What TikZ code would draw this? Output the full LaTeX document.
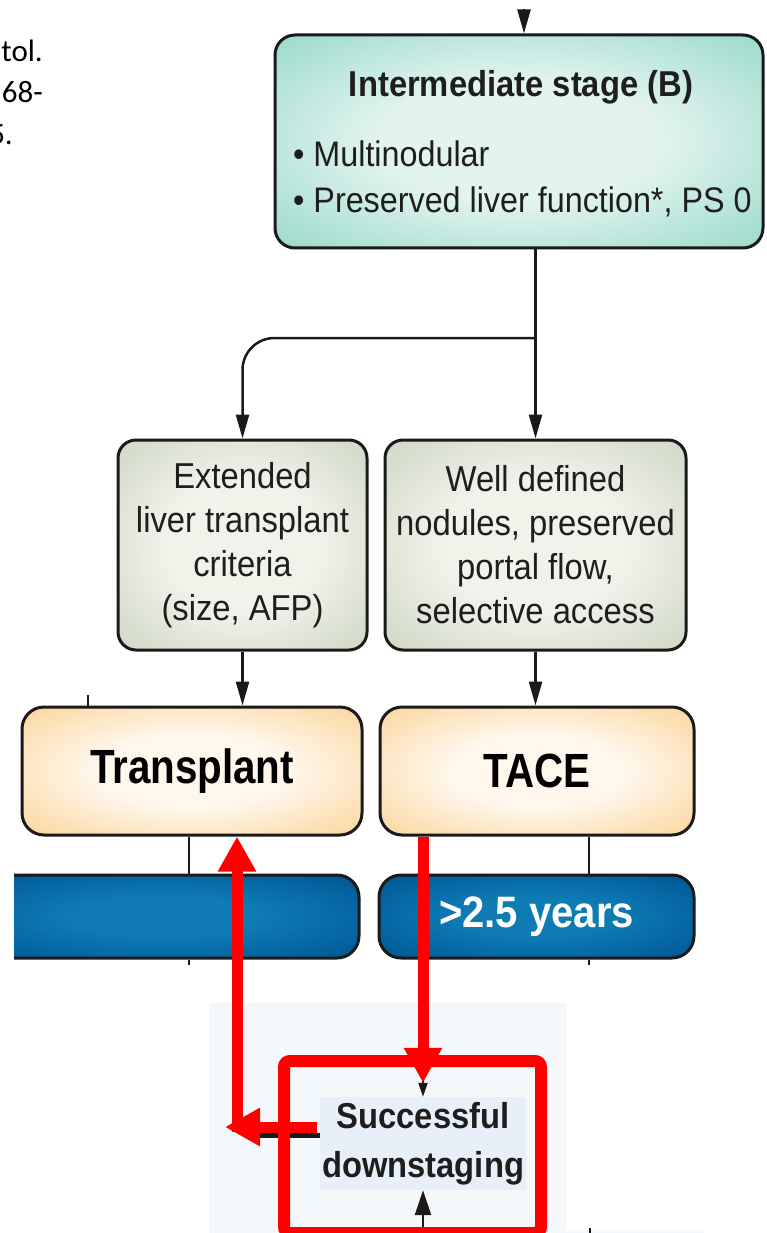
\documentclass[tikz,border=0pt]{standalone}
\usepackage{fontspec}
\usetikzlibrary{arrows.meta,calc}

% Narrowed sans faces used by the flow chart, and the note font
\newfontfamily\dfont[FakeStretch=0.91]{Liberation Sans}
\newfontfamily\dfontc[FakeStretch=0.84]{Liberation Sans}
\newfontfamily\notefont{Carlito}

% Box fills
\definecolor{tealin}{HTML}{E3F4F0}
\definecolor{tealout}{HTML}{9FDCCD}
\definecolor{sagein}{HTML}{F1F3EB}
\definecolor{sageout}{HTML}{D0D8C5}
\definecolor{peachin}{HTML}{FFF7EC}
\definecolor{peachout}{HTML}{FBD8A2}
\definecolor{bluein}{HTML}{0E7BB5}
\definecolor{blueout}{HTML}{005A96}
\definecolor{edgec}{HTML}{1A1A1A}
\definecolor{inkc}{HTML}{1E1E1E}
\definecolor{panelc}{HTML}{F4F8FA}
\definecolor{dsfill}{HTML}{E7F0F8}
\definecolor{alarm}{HTML}{FF0000}

% Vignette-like fills: light centre, darker rim
\pgfdeclareradialshading{tealglow}{\pgfpoint{0bp}{0bp}}{color(0bp)=(tealin); color(14bp)=(tealin); color(34bp)=(tealout); color(50bp)=(tealout)}
\pgfdeclareradialshading{sageglow}{\pgfpoint{0bp}{0bp}}{color(0bp)=(sagein); color(15bp)=(sagein); color(35bp)=(sageout); color(50bp)=(sageout)}
\pgfdeclareradialshading{peachglow}{\pgfpoint{0bp}{0bp}}{color(0bp)=(peachin); color(14bp)=(peachin); color(34bp)=(peachout); color(50bp)=(peachout)}
\pgfdeclareradialshading{blueglow}{\pgfpoint{0bp}{0bp}}{color(0bp)=(bluein); color(12bp)=(bluein); color(33bp)=(blueout); color(50bp)=(blueout)}

\tikzset{
  stagebox/.style={draw=edgec, line width=3, inner sep=0, shade, shading=#1},
  flow/.style={draw=edgec, line width=2.5, -{Triangle[length=24pt,width=13pt]}},
  link/.style={draw=edgec, line width=2.5},
  redarrow/.style={draw=alarm, line width=11, -{Triangle[length=35pt,width=36pt]}},
  midtext/.style={text=inkc, align=center, font=\dfont\fontsize{36}{44}\selectfont},
  bigtext/.style={text=black, font=\dfontc\bfseries\fontsize{48}{56}\selectfont},
  notetext/.style={text=black, anchor=base east, inner sep=0, font=\notefont\fontsize{31}{38}\selectfont},
}

\begin{document}
\begin{tikzpicture}[x=1pt, y=-1pt]
\useasboundingbox (0,0) rectangle (766,1233);
\fill[white] (0,0) rectangle (766,1233);

% Light panel behind the downstaging step
\fill[panelc] (209,1003) rectangle (567,1233);
\fill[panelc] (567,1230) rectangle (704,1233);

% Citation fragment at the upper left
\begin{scope}
\clip (0,0) rectangle (766,1233);
\node[notetext] (n1) at (43,62) {tol.};
\node[notetext] (n2) at (43,103) {68-};
\node[notetext] (n3) at (13,145) {5.};
\end{scope}

% ---- Boxes ----
\node[stagebox=tealglow, rounded corners=20, minimum width=488, minimum height=213] (top) at (519,141.5) {};
\node[stagebox=sageglow, rounded corners=18, minimum width=249, minimum height=210, midtext] (ext) at (242.5,545)
  {Extended\\liver transplant\\criteria\\(size, AFP)};
\node[stagebox=sageglow, rounded corners=18, minimum width=301, minimum height=210, midtext] (well) at (535.5,545)
  {Well defined\\nodules, preserved\\portal flow,\\selective access};
\node[stagebox=peachglow, rounded corners=22, minimum width=340, minimum height=128, bigtext] (transplant) at (192,771) {Transplant};
\node[stagebox=peachglow, rounded corners=22, minimum width=314, minimum height=128, bigtext] (tace) at (537,771) {TACE};

\begin{scope}
\clip (14,860) rectangle (420,975);
\node[stagebox=blueglow, rounded corners=22, minimum width=389, minimum height=83] (barL) at (164.5,916.5) {};
\end{scope}
\node[stagebox=blueglow, rounded corners=22, minimum width=315, minimum height=83,
      text=white, font=\dfont\bfseries\fontsize{44}{50}\selectfont] (barR) at (536.5,916.5) {>2.5 years};

% Text of the intermediate-stage box
\node[anchor=base, inner sep=0, text=inkc, font=\dfont\bfseries\fontsize{36}{42}\selectfont] (ttl) at (521,97) {Intermediate stage (B)};
\node[anchor=base west, inner sep=0, text=inkc, font=\dfont\fontsize{35.5}{42}\selectfont] (b1) at (293,167) {• Multinodular};
\node[anchor=base west, inner sep=0, text=inkc, font=\dfont\fontsize{35.5}{42}\selectfont] (b2) at (293,213) {• Preserved liver function*, PS 0};

% ---- Black connectors ----
\coordinate (entry) at (524,9);
\draw[flow] (entry) -- (entry |- top.north);
\coordinate (fork) at (535.5,338);
\draw[flow] (top.south -| well.north) -- (well.north);
\draw[flow, rounded corners=32] (fork) -- (fork -| ext.north) -- (ext.north);
\draw[flow] (ext.south) -- (ext.south |- transplant.north);
\draw[flow] (well.south) -- (well.south |- tace.north);

\coordinate (stubA) at (88,695);
\draw[link] (stubA) -- (stubA |- transplant.north);

\coordinate (tl) at (189,0);
\coordinate (tr) at (589,0);
\draw[link] (tl |- transplant.south) -- (tl |- barL.north);
\draw[link] (tl |- barL.south) -- ++(0,5);
\draw[link] (tr |- tace.south) -- (tr |- barR.north);
\draw[link] (tr |- barR.south) -- ++(0,5);
\draw[link] (590,1228) -- (590,1233);

% ---- Downstaging step ----
\node[fill=dsfill, minimum width=206, minimum height=93, inner sep=0, align=center, text=inkc,
      font=\dfont\bfseries\fontsize{36}{49}\selectfont] (succ) at (423,1143.5) {Successful\\downstaging};

\coordinate (fromabove) at (423,1062);
\draw[draw=edgec, line width=2, -{Triangle[length=14pt,width=9pt]}] (fromabove) -- (succ.north);
\coordinate (frombelow) at (423,1240);
\draw[draw=edgec, line width=2.5, -{Triangle[length=25pt,width=16pt]}] (frombelow) -- (succ.south);
\coordinate (backleft) at (258,1135);
\draw[draw=edgec, line width=5] (succ.west |- backleft) -- (backleft);

% ---- Red highlight ----
\node[draw=alarm, line width=12, rounded corners=6, minimum width=257, minimum height=172, inner sep=0] (frame) at (412.5,1147) {};
\draw[redarrow] (succ.north |- tace.south) -- ([yshift=14pt]succ.north);
\coordinate (turn) at (237,1132);
\draw[redarrow] (turn) -- (turn |- transplant.south);
\coordinate (hstart) at (317,1127);
\coordinate (htip) at (225,1127);
\draw[redarrow] (hstart) -- (htip);
\end{tikzpicture}
\end{document}
